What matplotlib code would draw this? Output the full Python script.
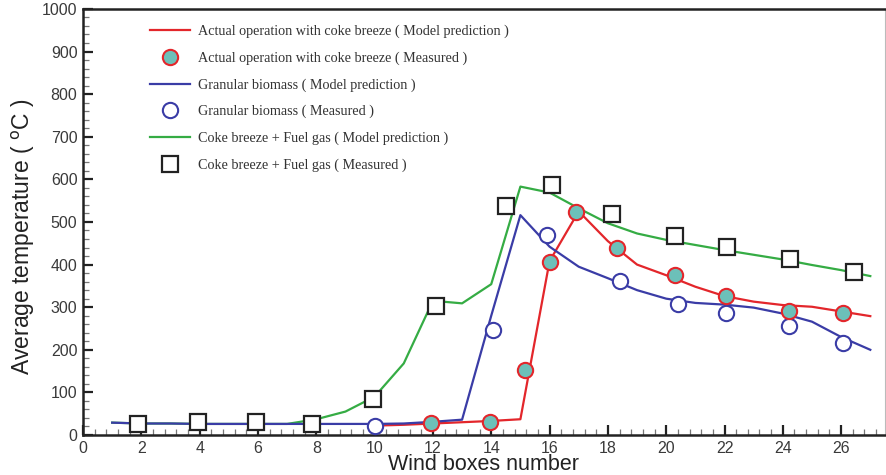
import numpy as np
import matplotlib
matplotlib.use('Agg')
import matplotlib.pyplot as plt
from matplotlib.ticker import MultipleLocator

# model predictions (wind box number, temperature)
red_x = [10, 11, 12, 13, 14, 15, 16, 17, 18, 19, 20, 21, 22, 23, 24, 25, 26, 27]
red_y = [22, 24, 27, 30, 33, 37, 408, 525, 455, 400, 375, 348, 326, 313, 305, 301, 290, 279]

blue_x = [1, 2, 3, 4, 5, 6, 7, 8, 9, 10, 11, 12, 13, 14, 15, 16, 17, 18, 19, 20, 21, 22, 23, 24, 25, 26, 27]
blue_y = [29, 27, 27, 26, 26, 26, 26, 26, 26, 26, 27, 31, 36, 280, 516, 442, 395, 368, 340, 320, 310, 306, 299, 285, 266, 230, 200]

green_x = [1, 2, 3, 4, 5, 6, 7, 8, 9, 10, 11, 12, 13, 14, 15, 16, 17, 18, 19, 20, 21, 22, 23, 24, 25, 26, 27]
green_y = [29, 27, 27, 26, 26, 26, 26, 37, 55, 90, 168, 315, 309, 354, 583, 569, 532, 497, 473, 458, 446, 434, 423, 412, 399, 387, 373]

# measured values
red_mx = [11.95, 13.95, 15.15, 16.0, 16.9, 18.3, 20.3, 22.05, 24.2, 26.05]
red_my = [29, 30, 152, 407, 524, 440, 375, 326, 292, 286]

blue_mx = [10.03, 14.05, 15.9, 18.4, 20.4, 22.05, 24.2, 26.07]
blue_my = [21, 246, 469, 361, 308, 286, 255, 215]

green_mx = [1.9, 3.95, 5.92, 7.87, 9.94, 12.1, 14.5, 16.08, 18.14, 20.31, 22.07, 24.23, 26.44]
green_my = [27, 30, 30, 27, 84, 303, 538, 587, 519, 468, 442, 412, 382]

labels = ['Actual operation with coke breeze ( Model prediction )',
          'Actual operation with coke breeze ( Measured )',
          'Granular biomass ( Model prediction )',
          'Granular biomass ( Measured )',
          'Coke breeze + Fuel gas ( Model prediction )',
          'Coke breeze + Fuel gas ( Measured )']

RED = '#e3262b'
BLUE = '#3a3ca6'
GREEN = '#35ac44'
TEAL = '#6cc0b9'

fig = plt.figure(figsize=(8.87, 4.75), dpi=100)
ax = fig.add_axes([0.0936, 0.0842, 0.904, 0.897])

l1, = ax.plot(red_x, red_y, color=RED, lw=1.6, zorder=3)
l3, = ax.plot(blue_x, blue_y, color=BLUE, lw=1.6, zorder=3)
l5, = ax.plot(green_x, green_y, color=GREEN, lw=1.6, zorder=2)
l2, = ax.plot(red_mx, red_my, 'o', ls='', ms=11, mfc=TEAL, mec=RED, mew=1.5, zorder=5)
l4, = ax.plot(blue_mx, blue_my, 'o', ls='', ms=11, mfc='white', mec=BLUE, mew=1.5, zorder=4)
l6, = ax.plot(green_mx, green_my, 's', ls='', ms=11, mfc='white', mec='#222222', mew=1.6, zorder=4)

ax.set_xlim(0, 27.5)
ax.set_ylim(0, 1000)
ax.xaxis.set_major_locator(MultipleLocator(2))
ax.xaxis.set_minor_locator(MultipleLocator(0.4))
ax.yaxis.set_major_locator(MultipleLocator(100))
ax.yaxis.set_minor_locator(MultipleLocator(20))
ax.tick_params(which='major', direction='in', length=7, width=1.6, color='#222222',
               labelsize=11.5, labelcolor='#3a3a3a', pad=4)
ax.tick_params(which='minor', direction='in', length=4, width=0.9, color='#777777')
for lab in ax.get_xticklabels() + ax.get_yticklabels():
    lab.set_family('Liberation Sans')
for s in ['left', 'bottom', 'top']:
    ax.spines[s].set_linewidth(1.8)
    ax.spines[s].set_color('#222222')
ax.spines['right'].set_linewidth(0.8)
ax.spines['right'].set_color('#bbbbbb')

ax.set_xlabel('Wind boxes number', fontsize=15.5, family='Liberation Sans', color='#222222', labelpad=-1)
ax.set_ylabel('Average temperature ( $^{\\mathrm{o}}$C )', fontsize=16.5, family='Liberation Sans',
              color='#222222')
ax.yaxis.set_label_coords(-0.057, 0.465)

leg = fig.legend([l1, l2, l3, l4, l5, l6], labels, loc='upper left',
                 bbox_to_anchor=(150 / 887, 1 - 25 / 475), frameon=False,
                 prop={'family': 'Liberation Serif', 'size': 10.2},
                 handlelength=2.8, handletextpad=0.6, labelspacing=0.93,
                 borderpad=0, borderaxespad=0)
for t in leg.get_texts():
    t.set_color('#333333')

fig.savefig('out.png', dpi=100)
